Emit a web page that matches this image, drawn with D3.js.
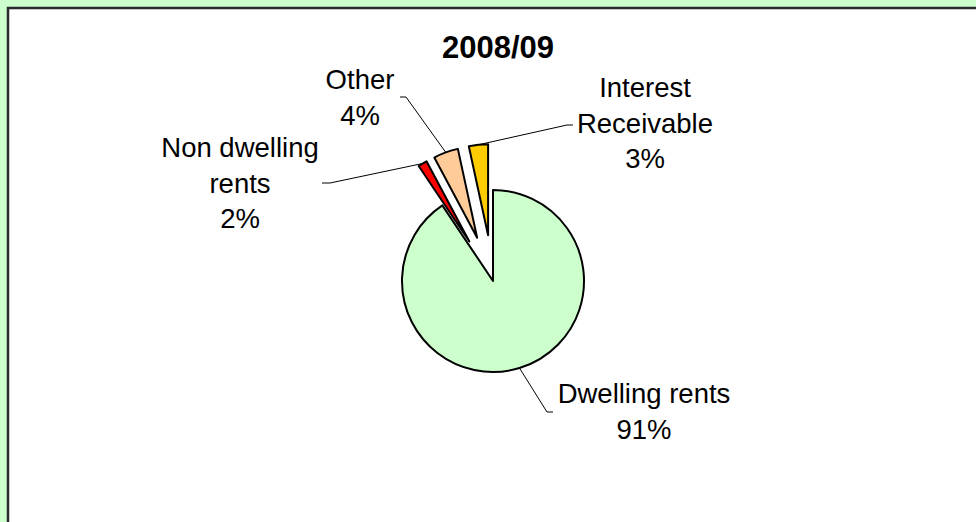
<!DOCTYPE html>
<html>
<head>
<meta charset="utf-8">
<script src="https://cdn.jsdelivr.net/npm/d3@7"></script>
<style>
  body { margin: 0; background: #ccffcc; }
  text { font-family: "Liberation Sans", Arial, sans-serif; fill: #000; }
</style>
</head>
<body>
<div id="chart"></div>
<script>
// data
var categories = ['Dwelling rents', 'Non dwelling rents', 'Other', 'Interest Receivable']
var values = [90.6, 1.6, 4.4, 3.4]
var colours = ['#ccffcc', '#ff0000', '#ffcc99', '#ffcc00']
var labelLines = [['Dwelling rents'], ['Non dwelling', 'rents'], ['Other'], ['Interest', 'Receivable']]
var exploded = [false, true, true, true]
var title = '2008/09'

// layout
var width = 976, height = 522
var cx = 493, cy = 281, radius = 91, explode = 46
// label centre / first baseline, elbow of leader line (relative to pie centre)
var labelPos = [
  { x: 151, y: 122, ex: 54, ey: 131, tick: 6 },
  { x: -253, y: -124, ex: -163, ey: -98, tick: -8 },
  { x: -133, y: -192, ex: -87, ey: -184, tick: -6 },
  { x: 152, y: -184, ex: 74, ey: -156, tick: 6 }
]
var lineGap = 35.5

var svg = d3.select('#chart').append('svg')
  .attr('width', width)
  .attr('height', height)
  .style('display', 'block')

// white plot frame
svg.append('rect')
  .attr('x', 8).attr('y', 8)
  .attr('width', width + 10).attr('height', height + 10)
  .attr('fill', '#fff')
  .attr('stroke', '#2a2a2a')
  .attr('stroke-width', 2.5)

svg.append('text')
  .attr('x', 498).attr('y', 58)
  .attr('text-anchor', 'middle')
  .style('font-size', '31px')
  .style('font-weight', 'bold')
  .text(title)

var total = d3.sum(values)
var pie = d3.pie().sort(null).value(function(d){ return d })
var arcs = pie(values)
var arc = d3.arc().innerRadius(0).outerRadius(radius)

var g = svg.append('g')
  .attr('transform', 'translate(' + cx + ',' + cy + ')')

function offset(d, i) {
  var mid = (d.startAngle + d.endAngle) / 2
  var k = exploded[i] ? explode : 0
  return [Math.sin(mid) * k, -Math.cos(mid) * k]
}

// leader lines
var lines = g.append('g').attr('class', 'leaders')
arcs.forEach(function(d, i) {
  var mid = (d.startAngle + d.endAngle) / 2
  var o = offset(d, i)
  var sx = o[0] + Math.sin(mid) * radius
  var sy = o[1] - Math.cos(mid) * radius
  var p = labelPos[i]
  lines.append('polyline')
    .attr('points', [[sx, sy], [p.ex, p.ey], [p.ex + p.tick, p.ey]].join(' '))
    .attr('fill', 'none')
    .attr('stroke', '#000')
    .attr('stroke-width', 1)
})

// slices
g.selectAll('.slice')
  .data(arcs)
  .enter().append('path')
  .attr('class', 'slice')
  .attr('transform', function(d, i){ return 'translate(' + offset(d, i) + ')' })
  .attr('d', arc)
  .attr('fill', function(d, i){ return colours[i] })
  .attr('stroke', '#000')
  .attr('stroke-width', 2)
  .attr('stroke-linejoin', 'round')

// labels
arcs.forEach(function(d, i) {
  var p = labelPos[i]
  var rows = labelLines[i].concat([Math.round(values[i] / total * 100) + '%'])
  var t = g.append('text')
    .attr('text-anchor', 'middle')
    .style('font-size', '27.5px')
  rows.forEach(function(r, j) {
    t.append('tspan')
      .attr('x', p.x)
      .attr('y', p.y + j * lineGap)
      .text(r)
  })
})
</script>
</body>
</html>
